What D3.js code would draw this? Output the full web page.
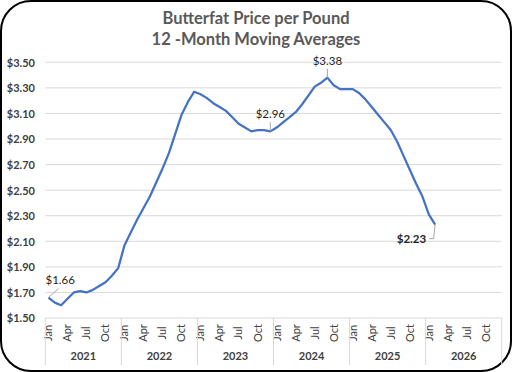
<!DOCTYPE html>
<html>
<head>
<meta charset="utf-8">
<script src="https://cdn.jsdelivr.net/npm/d3@7"></script>
<style>
  html, body { margin: 0; padding: 0; background: #fff; }
  svg { display: block; }
  text { font-family: Lato, "Open Sans", sans-serif; }
</style>
</head>
<body>
<svg id="chart" width="512" height="372"></svg>
<script>
// ---- data ----
const titleLines = ["Butterfat Price per Pound", "12 -Month Moving Averages"];
const monthNames = ["Jan","Feb","Mar","Apr","May","Jun","Jul","Aug","Sep","Oct","Nov","Dec"];
const years = [2021, 2022, 2023, 2024, 2025, 2026];
const shownMonths = ["Jan","Apr","Jul","Oct"];
const yTicks = [1.50, 1.70, 1.90, 2.10, 2.30, 2.50, 2.70, 2.90, 3.10, 3.30, 3.50];
// monthly 12-month moving average, Jan 2021 .. Feb 2026
const prices = [
  1.66, 1.62, 1.60, 1.65, 1.70, 1.71, 1.70, 1.72, 1.75, 1.78, 1.83, 1.89,
  2.07, 2.17, 2.27, 2.36, 2.45, 2.56, 2.67, 2.79, 2.94, 3.09, 3.19, 3.27,
  3.25, 3.22, 3.18, 3.15, 3.12, 3.07, 3.02, 2.99, 2.96, 2.97, 2.97, 2.96,
  2.99, 3.03, 3.07, 3.11, 3.17, 3.24, 3.31, 3.34, 3.38, 3.32, 3.29, 3.29,
  3.29, 3.26, 3.21, 3.15, 3.09, 3.03, 2.97, 2.88, 2.77, 2.66, 2.55, 2.45,
  2.31, 2.23
];
// annotated points: index into prices, label
const callouts = [
  { i: 0,  label: "$1.66" },
  { i: 35, label: "$2.96" },
  { i: 44, label: "$3.38" },
  { i: 61, label: "$2.23" }
];

// ---- build ----
const keys = [];
years.forEach(y => monthNames.forEach(m => keys.push(y + "-" + m)));
const series = prices.map((v, i) => ({ key: keys[i], v }));

const svg = d3.select("#chart");
const W = 512, H = 372;

svg.append("rect")
  .attr("x", 1).attr("y", 1).attr("width", W - 2).attr("height", H - 2)
  .attr("rx", 30).attr("ry", 30)
  .attr("fill", "#fff").attr("stroke", "#000").attr("stroke-width", 2);

const plot = { left: 45.3, right: 501.7, top: 62.3, bottom: 318 };

const x = d3.scaleBand().domain(keys).range([plot.left, plot.right]).padding(0);
const y = d3.scaleLinear().domain([1.5, 3.5]).range([plot.bottom, plot.top]);

// title
svg.append("g").selectAll("text").data(titleLines).join("text")
  .attr("x", 256).attr("y", (d, i) => 24 + i * 21)
  .attr("text-anchor", "middle")
  .attr("font-size", 16.5).attr("font-weight", "bold")
  .attr("fill", "#595959")
  .text(d => d);

// gridlines
svg.append("g").selectAll("line").data(yTicks).join("line")
  .attr("x1", plot.left).attr("x2", plot.right)
  .attr("y1", d => y(d)).attr("y2", d => y(d))
  .attr("stroke", "#d9d9d9").attr("stroke-width", 1);

// y axis labels
const yAxis = d3.axisLeft(y).tickValues(yTicks).tickSize(0).tickPadding(0)
  .tickFormat(d => "$" + d3.format(".2f")(d));
const gy = svg.append("g").attr("transform", "translate(35,0)").call(yAxis);
gy.select(".domain").remove();
gy.selectAll("text")
  .attr("font-family", "Lato, sans-serif")
  .attr("font-size", 11).attr("font-weight", "bold")
  .attr("fill", "#404040")
  .attr("dy", "0.35em");

// x axis: month labels
const gx = svg.append("g");
gx.selectAll("text.m").data(keys.filter(k => shownMonths.includes(k.split("-")[1]))).join("text")
  .attr("class", "m")
  .attr("transform", d => `translate(${x(d) + x.bandwidth() / 2},333) rotate(-90)`)
  .attr("text-anchor", "middle").attr("dy", "0.35em")
  .attr("font-size", 11).attr("fill", "#404040")
  .text(d => d.split("-")[1]);

// year separators
const yearW = (plot.right - plot.left) / years.length;
gx.selectAll("line.sep").data(d3.range(years.length + 1)).join("line")
  .attr("class", "sep")
  .attr("x1", i => plot.left + i * yearW).attr("x2", i => plot.left + i * yearW)
  .attr("y1", plot.bottom).attr("y2", 365)
  .attr("stroke", "#d9d9d9").attr("stroke-width", 1);

gx.selectAll("text.y").data(years).join("text")
  .attr("class", "y")
  .attr("x", yr => x(yr + "-Jan") + (x(yr + "-Dec") + x.bandwidth() - x(yr + "-Jan")) / 2)
  .attr("y", 360)
  .attr("text-anchor", "middle")
  .attr("font-size", 11).attr("font-weight", "bold").attr("fill", "#404040")
  .text(d => d);

// line
const line = d3.line()
  .x(d => x(d.key) + x.bandwidth() / 2)
  .y(d => y(d.v));
svg.append("path").datum(series)
  .attr("d", line)
  .attr("fill", "none").attr("stroke", "#4472C4").attr("stroke-width", 2.25)
  .attr("stroke-linejoin", "round");

// callouts
const cx = i => x(keys[i]) + x.bandwidth() / 2;
const cy = i => y(prices[i]);
const cg = svg.append("g");
callouts.forEach(c => {
  const px = cx(c.i), py = cy(c.i);
  let tx, ty, anchor, path;
  if (c.i === 0) {
    tx = px - 3; ty = py - 14; anchor = "start";
    path = `M${px},${py} L${px + 10},${py - 9}`;
  } else if (c.i === prices.length - 1) {
    tx = px - 9; ty = py + 18; anchor = "end";
    path = `M${px},${py} L${px - 1.5},${py + 14} L${px - 6},${py + 14}`;
  } else {
    tx = px; ty = py - 13; anchor = "middle";
    path = `M${px},${py} L${px},${py - 9}`;
  }
  cg.append("path").attr("d", path).attr("fill", "none")
    .attr("stroke", "#a6a6a6").attr("stroke-width", 1);
  cg.append("text").attr("x", tx).attr("y", ty)
    .attr("text-anchor", anchor)
    .attr("font-size", 11.5)
    .attr("font-weight", c.i === prices.length - 1 ? "bold" : "normal")
    .attr("fill", "#262626")
    .text(c.label);
});
</script>
</body>
</html>
